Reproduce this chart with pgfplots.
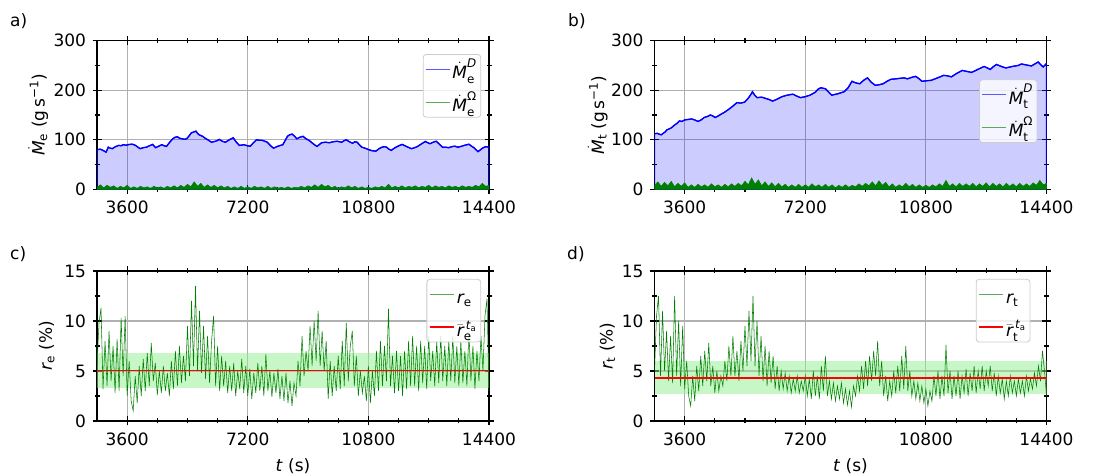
\documentclass[border=0pt]{standalone}
\usepackage{fontspec}
\setmainfont{DejaVu Sans}
\usepackage{amsmath}
\usepackage{pgfplots}
\usepackage{pgfplotstable}
\pgfplotsset{compat=1.18}
\definecolor{mplblue}{rgb}{0,0,1}
\definecolor{mplgreen}{rgb}{0,0.5,0}
\definecolor{lgreen}{RGB}{144,238,144}
\definecolor{gridgray}{RGB}{176,176,176}
\definecolor{legedge}{RGB}{204,204,204}
\definecolor{legblue}{RGB}{90,90,255}
\definecolor{leggreen}{RGB}{90,170,90}
\newcommand{\fs}{\fontsize{17}{20}\selectfont}
\newcommand{\Md}{\dot{\text{\itshape M}}}
\newcommand{\ph}{\vphantom{$\Md^{\text{\itshape D}}_{\text{e}}$}}

\pgfplotstableread{
x y
2700 80
2800 81
2878 78.5
2971 75
3036 85
3100 83
3156 82
3250 86
3341 88.6
3420 88
3480 90
3570 89
3665 90.6
3760 91
3850 88.6
3920 85
3989 82
4080 84
4174 85
4270 88
4359 90.6
4451 84
4540 87
4636 90
4700 88
4775 86.6
4870 95
4960 102
5030 105
5099 106
5170 103
5238 102
5310 101
5377 102
5450 108
5516 114
5600 116
5654 117.4
5700 113
5747 110
5850 107
5932 103
6030 99
6117 95
6210 96.6
6280 98
6348 100.7
6440 97
6533 95
6650 100
6765 104
6860 95
6950 88.6
7089 90
7180 88
7274 87
7370 94
7459 100
7550 99
7644 98.7
7783 95
7880 88
7968 83
8100 87
8246 90
8320 99
8384 107
8450 110
8523 111.4
8600 107
8662 102
8750 105
8847 107
8940 102
9032 98.7
9150 92
9263 86.6
9330 90
9402 94
9520 95
9634 94
9750 96
9865 97
10004 95
10070 98
10143 100
10230 96
10328 93
10400 96
10466 95
10530 90
10605 85
10700 83
10790 80.5
10900 78
11022 77
11120 82
11207 85
11280 86
11345 85
11410 81
11484 78.5
11550 82
11623 85
11710 88
11808 90.6
11950 86
12086 82
12180 84
12271 86.6
12390 92
12502 96.6
12570 94
12641 92
12730 95
12826 97
12920 91
13011 85
13100 85
13196 84
13290 86
13381 87
13470 85
13567 86.6
13680 89
13800 91
13880 87
13950 84
14010 80
14070 76
14130 79
14200 83
14300 86
14400 85
}\MeD

\pgfplotstableread{
x y
2700 4
2800 9
2900 3
3000 8
3100 4
3200 7
3300 2
3400 6
3500 3
3600 8
3700 2
3800 5
3900 2
4000 6
4100 3
4200 5
4300 2
4400 6
4500 3
4600 5
4700 2
4800 6
4900 3
5000 7
5100 3
5200 8
5300 4
5400 10
5500 5
5600 15
5700 6
5800 12
5900 4
6000 9
6100 4
6200 8
6300 3
6400 7
6500 3
6600 6
6700 2
6800 5
6900 2
7000 6
7100 2
7200 5
7300 2
7400 6
7500 3
7600 5
7700 2
7800 6
7900 2
8000 5
8100 2
8200 4
8300 2
8400 5
8500 2
8600 4
8700 3
8800 6
8900 3
9000 7
9100 4
9200 9
9300 4
9400 10
9500 5
9600 8
9700 3
9800 6
9900 2
10000 5
10100 3
10200 7
10300 3
10400 6
10500 2
10600 5
10700 2
10800 4
10900 2
11000 5
11100 3
11200 6
11300 3
11400 10
11500 3
11600 6
11700 3
11800 7
11900 3
12000 6
12100 4
12200 7
12300 3
12400 6
12500 4
12600 8
12700 3
12800 7
12900 4
13000 6
13100 3
13200 7
13300 4
13400 6
13500 3
13600 7
13700 4
13800 6
13900 4
14000 8
14100 5
14200 12
14300 6
14400 8
}\MeO

\pgfplotstableread{
x y
2700 112
2780 113
2850 111
2900 110
2960 113
3020 116
3071 120
3140 122
3200 124
3250 127
3303 130
3370 133
3442 138
3520 137
3600 140
3700 141
3813 142
3900 140
3999 137
4090 140
4185 145
4280 147
4370 150
4440 148
4509 145
4600 148
4695 152
4800 156
4927 162
5040 168
5159 175
5270 174
5391 176
5500 184
5580 192
5623 197
5690 190
5762 185
5900 186
6041 183
6130 181
6226 178
6360 182
6505 187
6660 190
6829 192
6950 188
7061 185
7200 187
7340 190
7500 196
7580 202
7665 205
7730 204
7804 203
7900 196
7989 190
8180 193
8361 197
8480 205
8593 218
8700 215
8825 213
8940 220
9057 225
9170 216
9289 210
9400 211
9521 213
9640 218
9753 222
9900 223
10031 224
10150 225
10250 223
10380 226
10495 228
10600 223
10681 218
10800 219
10959 220
11150 225
11330 230
11450 229
11562 227
11720 234
11887 240
12020 238
12165 236
12350 242
12537 248
12630 245
12722 242
12820 248
12908 252
13050 248
13186 245
13380 248
13557 250
13650 253
13800 251
13950 249
14050 253
14150 257
14220 252
14300 247
14400 254
}\MtD

\pgfplotstableread{
x y
2700 8
2800 15
2900 6
3000 14
3100 7
3200 16
3300 5
3400 12
3500 6
3600 13
3700 4
3800 9
3900 4
4000 10
4100 5
4200 9
4300 4
4400 11
4500 5
4600 9
4700 4
4800 10
4900 5
5000 11
5100 6
5200 12
5300 7
5400 16
5500 9
5600 23
5700 10
5800 19
5900 7
6000 15
6100 6
6200 13
6300 5
6400 12
6500 5
6600 10
6700 4
6800 9
6900 4
7000 10
7100 4
7200 9
7300 4
7400 11
7500 5
7600 9
7700 4
7800 10
7900 4
8000 9
8100 3
8200 8
8300 4
8400 9
8500 4
8600 8
8700 5
8800 11
8900 6
9000 12
9100 7
9200 15
9300 7
9400 17
9500 8
9600 14
9700 5
9800 11
9900 4
10000 9
10100 5
10200 12
10300 5
10400 10
10500 4
10600 9
10700 4
10800 8
10900 4
11000 9
11100 5
11200 11
11300 6
11400 18
11500 6
11600 11
11700 5
11800 12
11900 6
12000 11
12100 6
12200 12
12300 5
12400 11
12500 6
12600 13
12700 5
12800 12
12900 6
13000 11
13100 5
13200 12
13300 6
13400 11
13500 5
13600 12
13700 6
13800 11
13900 6
14000 13
14100 8
14200 18
14300 9
14400 12
}\MtO

\pgfplotstableread{
x y
2700 5.5
2760 9.8
2820 11.3
2880 3.2
2940 8.0
3000 3.5
3060 9.0
3120 4.0
3180 7.5
3240 2.8
3300 8.2
3360 3.0
3420 10.3
3480 4.5
3540 10.5
3600 2.5
3660 6.0
3720 2.0
3780 1.0
3840 4.5
3900 1.8
3960 5.5
4020 2.5
4080 6.2
4140 3.0
4200 6.8
4260 3.5
4320 7.8
4380 4.0
4440 5.8
4500 2.6
4560 5.0
4620 2.8
4680 5.5
4740 3.0
4800 4.8
4860 2.5
4920 6.0
4980 3.2
5040 7.0
5100 3.5
5160 7.5
5220 3.8
5280 6.5
5340 4.0
5400 9.5
5460 4.5
5520 12.0
5580 5.5
5640 13.5
5700 5.0
5760 11.0
5820 4.8
5880 9.5
5940 4.2
6000 8.5
6060 3.8
6120 8.0
6180 10.5
6240 3.5
6300 7.5
6360 3.0
6420 6.5
6480 3.5
6540 6.0
6600 2.8
6660 5.5
6720 3.0
6780 5.8
6840 2.5
6900 5.0
6960 3.2
7020 6.2
7080 2.8
7140 5.5
7200 2.5
7260 5.2
7320 2.2
7380 4.8
7440 2.8
7500 5.8
7560 3.0
7620 5.5
7680 2.5
7740 6.7
7800 3.0
7860 5.0
7920 2.4
7980 4.8
8040 2.8
8100 5.2
8160 2.2
8220 4.5
8280 2.0
8340 4.8
8400 1.8
8460 4.0
8520 1.5
8580 3.8
8640 2.5
8700 6.0
8760 3.5
8820 8.5
8880 4.5
8940 7.0
9000 5.0
9060 9.5
9120 5.5
9180 10.0
9240 6.0
9300 11.0
9360 5.5
9420 9.0
9480 5.0
9540 8.0
9600 2.2
9660 6.0
9720 2.5
9780 5.5
9840 3.0
9900 6.5
9960 3.2
10020 8.0
10080 3.5
10140 9.8
10200 4.0
10260 7.5
10320 9.0
10380 3.5
10440 6.5
10500 2.5
10560 5.0
10620 2.8
10680 4.5
10740 2.0
10800 5.5
10860 1.8
10920 5.0
10980 2.5
11040 7.0
11100 3.0
11160 8.0
11220 3.5
11280 7.5
11340 4.0
11400 11.2
11460 3.5
11520 6.5
11580 2.8
11640 7.0
11700 3.0
11760 6.5
11820 2.5
11880 7.0
11940 3.2
12000 8.0
12060 3.5
12120 8.5
12180 3.5
12240 7.5
12300 3.0
12360 8.0
12420 3.8
12480 7.5
12540 3.2
12600 8.5
12660 4.0
12720 7.0
12780 3.5
12840 8.0
12900 3.8
12960 8.5
13020 4.0
13080 7.5
13140 3.5
13200 8.0
13260 4.0
13320 8.5
13380 3.8
13440 7.5
13500 3.5
13560 8.0
13620 3.8
13680 7.0
13740 3.5
13800 9.0
13860 4.0
13920 7.5
13980 3.2
14040 7.0
14100 4.0
14160 8.5
14220 5.0
14280 10.5
14340 12.2
14400 3.0
}\re

\pgfplotstableread{
x y
2700 5.0
2760 10.5
2820 12.5
2880 4.5
2940 11.0
3000 5.0
3060 9.0
3120 4.0
3180 8.5
3240 3.8
3300 12.5
3360 4.5
3420 10.0
3480 3.5
3540 9.5
3600 3.2
3660 6.0
3720 2.5
3780 1.5
3840 4.5
3900 2.0
3960 5.5
4020 3.0
4080 6.5
4140 3.5
4200 7.0
4260 4.0
4320 7.8
4380 3.5
4440 5.5
4500 2.8
4560 5.0
4620 3.0
4680 4.5
4740 3.5
4800 6.0
4860 4.0
4920 7.5
4980 4.5
5040 8.5
5100 4.5
5160 7.0
5220 4.0
5280 8.0
5340 5.0
5400 9.5
5460 5.5
5520 11.0
5580 6.0
5640 12.5
5700 5.5
5760 10.0
5820 4.5
5880 8.5
5940 4.0
6000 7.5
6060 3.5
6120 7.0
6180 3.8
6240 6.5
6300 3.2
6360 5.5
6420 3.0
6480 5.0
6540 3.2
6600 4.8
6660 3.0
6720 4.5
6780 2.8
6840 4.2
6900 3.0
6960 4.5
7020 2.8
7080 4.0
7140 3.0
7200 4.5
7260 2.5
7320 4.2
7380 2.2
7440 5.0
7500 2.5
7560 4.5
7620 2.2
7680 5.5
7740 3.0
7800 6.5
7860 2.5
7920 4.0
7980 2.2
8040 3.8
8100 2.0
8160 3.5
8220 2.2
8280 3.8
8340 1.8
8400 3.2
8460 1.6
8520 3.0
8580 1.4
8640 3.5
8700 2.5
8760 4.5
8820 3.0
8880 5.5
8940 3.2
9000 6.0
9060 3.5
9120 6.5
9180 4.0
9240 7.0
9300 4.5
9360 8.0
9420 3.5
9480 6.0
9540 2.5
9600 4.5
9660 2.0
9720 4.0
9780 2.5
9840 5.0
9900 2.8
9960 5.5
10020 3.0
10080 6.5
10140 3.2
10200 7.5
10260 3.0
10320 5.0
10380 2.5
10440 4.0
10500 2.2
10560 3.8
10620 2.0
10680 3.5
10740 1.8
10800 3.2
10860 1.5
10920 3.0
10980 2.0
11040 4.5
11100 2.5
11160 5.0
11220 2.2
11280 4.5
11340 2.5
11400 7.6
11460 2.8
11520 5.0
11580 2.2
11640 4.5
11700 2.5
11760 5.0
11820 2.2
11880 4.5
11940 2.8
12000 5.2
12060 2.5
12120 4.8
12180 3.0
12240 5.5
12300 2.8
12360 5.0
12420 3.2
12480 5.5
12540 3.0
12600 5.0
12660 3.5
12720 5.5
12780 3.0
12840 4.8
12900 2.5
12960 4.5
13020 2.8
13080 4.2
13140 2.2
13200 4.0
13260 2.5
13320 4.5
13380 2.8
13440 4.0
13500 2.5
13560 4.2
13620 2.8
13680 4.0
13740 2.5
13800 4.5
13860 3.0
13920 4.2
13980 3.2
14040 4.8
14100 3.5
14160 5.5
14220 4.0
14280 7.0
14340 5.0
14400 2.5
}\rt

\pgfplotsset{
  mplax/.style={
    scale only axis, width=392pt,
    xmin=2700, xmax=14400, ymin=0,
    xtick={3600,7200,10800,14400},
    minor xtick={4500,5400,6300,8100,9000,9900,11700,12600,13500},
    scaled ticks=false,
    /pgf/number format/assume math mode=true,
    /pgf/number format/1000 sep={},
    tick label style={font=\fs},
    label style={font=\fs},
    tick align=center,
    major tick length=9pt, minor tick length=5pt,
    every tick/.style={black, line width=1.1pt},
    axis line style={line width=1.3pt},
    grid=major,
    major grid style={color=gridgray, line width=1.1pt},
    xticklabel style={yshift=-4pt},
    yticklabel style={xshift=-3pt},
    legend cell align=left,
    legend image code/.code={\draw[##1] (0pt,0pt) -- (18pt,0pt); \path (0pt,0pt) -- (24pt,0pt);},
    legend style={draw=legedge, fill=white, fill opacity=0.8, text opacity=1,
      rounded corners=3pt, font=\fs, inner sep=2pt, row sep=7pt, line width=0.8pt},
  },
}

\begin{document}
\begin{tikzpicture}
% ---- a ----
\begin{axis}[mplax, at={(97pt,286.7pt)}, anchor=south west, height=148.6pt,
  ymax=300, ytick={0,100,200,300}, minor ytick={50,150,250},
  ylabel={$\Md_{\text{e}}$ (g\,s$^{\text{−1}}$)},
  ylabel style={at={(axis description cs:-0.15,0.5)}, anchor=center},
  legend style={at={(rel axis cs:0.98,0.91)}, anchor=north east}]
\addplot[draw=mplblue, line width=1.1pt, fill=mplblue, fill opacity=0.2, forget plot] table {\MeD} \closedcycle;
\addplot[draw=mplblue, line width=1.3pt, forget plot] table {\MeD};
\addplot[draw=mplgreen, fill=mplgreen, line width=0.6pt, forget plot] table {\MeO} \closedcycle;
\addlegendimage{draw=legblue, line width=1.2pt}
\addlegendentry{$\Md^{\text{\itshape D}}_{\text{e}}$}
\addlegendimage{draw=leggreen, line width=1.2pt}
\addlegendentry{$\Md^{\text{Ω}}_{\text{e}}$}
\end{axis}
% ---- b ----
\begin{axis}[mplax, at={(654.5pt,286.7pt)}, anchor=south west, height=148.6pt,
  ymax=300, ytick={0,100,200,300}, minor ytick={50,150,250},
  ylabel={$\Md_{\text{t}}$ (g\,s$^{\text{−1}}$)},
  ylabel style={at={(axis description cs:-0.145,0.5)}, anchor=center},
  legend style={at={(rel axis cs:0.977,0.74)}, anchor=north east}]
\addplot[draw=mplblue, line width=1.1pt, fill=mplblue, fill opacity=0.2, forget plot] table {\MtD} \closedcycle;
\addplot[draw=mplblue, line width=1.3pt, forget plot] table {\MtD};
\addplot[draw=mplgreen, fill=mplgreen, line width=0.6pt, forget plot] table {\MtO} \closedcycle;
\addlegendimage{draw=legblue, line width=1.2pt}
\addlegendentry{$\Md^{\text{\itshape D}}_{\text{t}}$}
\addlegendimage{draw=leggreen, line width=1.2pt}
\addlegendentry{$\Md^{\text{Ω}}_{\text{t}}$}
\end{axis}
% ---- c ----
\begin{axis}[mplax, at={(97pt,55pt)}, anchor=south west, height=150pt,
  ymax=15, ytick={0,5,10,15}, minor ytick={2.5,7.5,12.5},
  ylabel={$\text{\itshape r}_{\text{e}}$ (\%)},
  ylabel style={at={(axis description cs:-0.128,0.5)}, anchor=center},
  xlabel={\textit{t} (s)},
  xlabel style={at={(axis description cs:0.5,-0.3)}, anchor=center},
  legend style={at={(rel axis cs:0.98,0.947)}, anchor=north east}]
\addplot[draw=none, fill=lgreen, fill opacity=0.5, forget plot] coordinates {(2700,3.3) (14400,3.3) (14400,6.8) (2700,6.8)} -- cycle;
\addplot[draw=mplgreen, line width=0.55pt, forget plot] table {\re};
\addplot[draw=red, line width=1.8pt, forget plot] coordinates {(2700,5.05) (14400,5.05)};
\addlegendimage{draw=leggreen, line width=0.9pt}
\addlegendentry{\ph$\text{\itshape r}_{\text{e}}$}
\addlegendimage{draw=red, line width=2pt}
\addlegendentry{\ph$\bar{\text{\itshape r}}^{\,\text{\itshape t}_{\text{a}}}_{\text{e}}$}
\end{axis}
% ---- d ----
\begin{axis}[mplax, at={(654.5pt,55pt)}, anchor=south west, height=150pt,
  ymax=15, ytick={0,5,10,15}, minor ytick={2.5,7.5,12.5},
  ylabel={$\text{\itshape r}_{\text{t}}$ (\%)},
  ylabel style={at={(axis description cs:-0.12,0.5)}, anchor=center},
  xlabel={\textit{t} (s)},
  xlabel style={at={(axis description cs:0.5,-0.3)}, anchor=center},
  legend style={at={(rel axis cs:0.959,0.947)}, anchor=north east}]
\addplot[draw=none, fill=lgreen, fill opacity=0.5, forget plot] coordinates {(2700,2.7) (14400,2.7) (14400,6.0) (2700,6.0)} -- cycle;
\addplot[draw=mplgreen, line width=0.55pt, forget plot] table {\rt};
\addplot[draw=red, line width=1.8pt, forget plot] coordinates {(2700,4.3) (14400,4.3)};
\addlegendimage{draw=leggreen, line width=0.9pt}
\addlegendentry{\ph$\text{\itshape r}_{\text{t}}$}
\addlegendimage{draw=red, line width=2pt}
\addlegendentry{\ph$\bar{\text{\itshape r}}^{\,\text{\itshape t}_{\text{a}}}_{\text{t}}$}
\end{axis}
\node[anchor=west, font=\fs, inner sep=0pt] at (10pt,455pt) {a)};
\node[anchor=west, font=\fs, inner sep=0pt] at (568pt,455pt) {b)};
\node[anchor=west, font=\fs, inner sep=0pt] at (10pt,222pt) {c)};
\node[anchor=west, font=\fs, inner sep=0pt] at (567pt,222pt) {d)};
\pgfresetboundingbox
\useasboundingbox (0pt,0pt) rectangle (1110pt,476pt);
\end{tikzpicture}
\end{document}
